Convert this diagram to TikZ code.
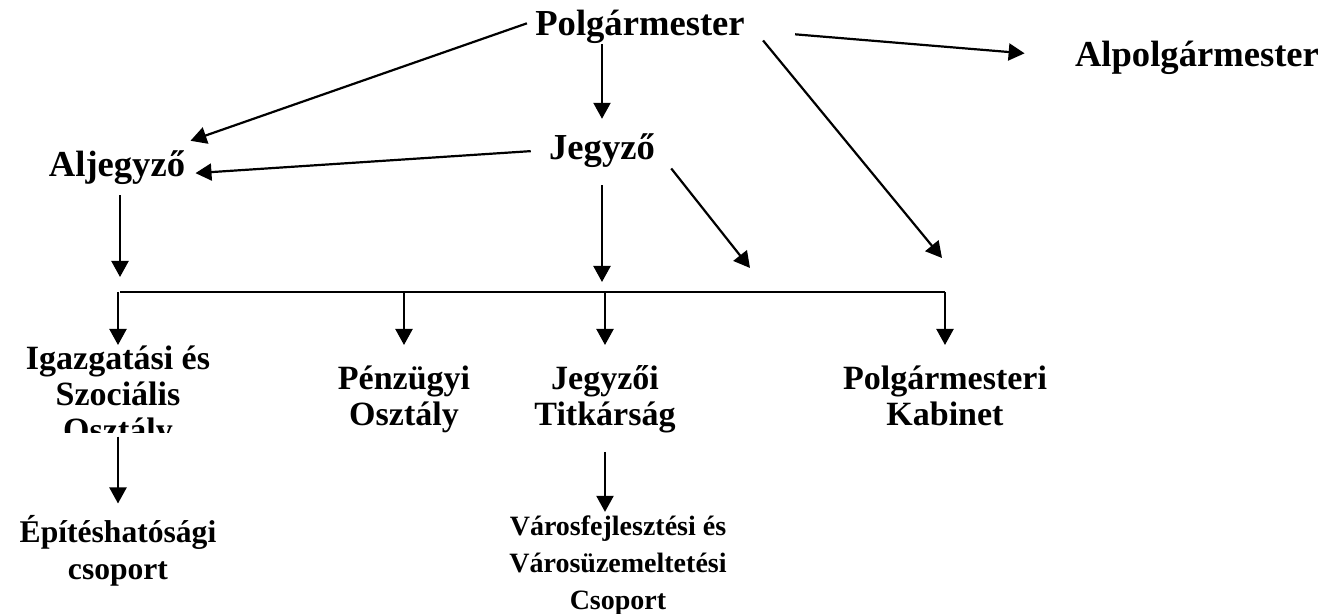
\documentclass[tikz,border=0pt]{standalone}
\usepackage{fontspec}
\setmainfont{Liberation Serif}
\usetikzlibrary{arrows.meta}
\tikzset{%
  every unit/.style={
    inner sep=0pt,
    anchor=base,
    align=center
  },
  unit top/.style={font=\fontsize{18.3}{21}\selectfont\bfseries},
  unit mid/.style={font=\fontsize{17}{18}\selectfont\bfseries},
  unit low/.style={font=\fontsize{15.8}{18.5}\selectfont\bfseries},
  unit small/.style={font=\fontsize{14}{18.5}\selectfont\bfseries},
  link/.style={
    -{Triangle[length=8pt,width=8.5pt]},
    line width=1.1pt
  },
}

\begin{document}
\begin{tikzpicture}[x=0.5pt, y=-0.5pt]
\useasboundingbox (0,0) rectangle (1330,614);
\clip (0,0) rectangle (1330,614);

% Leaders
\node [every unit, unit top] (polg) at (640,36) {Polgármester};
\node [every unit, unit top] (alpolg) at (1197,67) {Alpolgármester};
\node [every unit, unit top] (jegyzo) at (602,160) {Jegyző};
\node [every unit, unit top] (aljegyzo) at (117,177) {Aljegyző};

% Departments (base = last line)
\begin{scope}
  \clip (0,300) rectangle (260,433);
  \node [every unit, unit mid] (igazg) at (118,442) {Igazgatási és\\Szociális\\Osztály};
\end{scope}
\node [every unit, unit mid] (penz) at (404,426) {Pénzügyi\\Osztály};
\node [every unit, unit mid] (titk) at (605,426) {Jegyzői\\Titkárság};
\node [every unit, unit mid] (kabinet) at (945,426) {Polgármesteri\\Kabinet};

% Groups
\node [every unit, unit low] (epites) at (118,580) {Építéshatósági\\csoport};
\node [every unit, unit small] (varos) at (618,610) {Városfejlesztési és\\Városüzemeltetési\\Csoport};

\coordinate (kab-in) at (942,258);
\coordinate (mid-in) at (750,268);
\coordinate (bus-l) at (120,292);
\coordinate (bus-r) at (945,292);
\coordinate (tipline) at (0,345);

% Arrows from the top
\draw [link] ([shift={(-8,-4)}]polg.west) -- ([shift={(5,-10)}]aljegyzo.north east);
\draw [link, shorten >=7.5pt] (polg.south -| jegyzo.north) -- (jegyzo.north);
\draw [link] ([shift={(50,7)}]polg.east) -- ([shift={(-50,-5)}]alpolg.west);
\draw [link] ([shift={(18,-4)}]polg.south east) -- (kab-in);

\draw [link] ([shift={(-18,0)}]jegyzo.west) -- ([shift={(10,5)}]aljegyzo.east);
\draw [link] ([shift={(16,0)}]jegyzo.south east) -- (mid-in);
\draw [link, shorten <=5pt, shorten >=7.5pt] (aljegyzo.south -| bus-l) -- (bus-l);
\draw [link, shorten <=8.5pt, shorten >=5pt] (jegyzo.south) -- (jegyzo.south |- bus-l);

% Bus and drops
\draw [line width=1.1pt] (bus-l) -- (bus-r);
\foreach \n in {igazg, penz, titk, kabinet}
  \draw [link] (bus-l -| \n.north) -- (\n.north |- tipline);

\draw [link, shorten <=-6.5pt, shorten >=6pt] (igazg.south) -- (epites.north);
\draw [link, shorten <=9pt, shorten >=2pt] (titk.south) -- (titk.south |- varos.north);

\end{tikzpicture}
\end{document}
